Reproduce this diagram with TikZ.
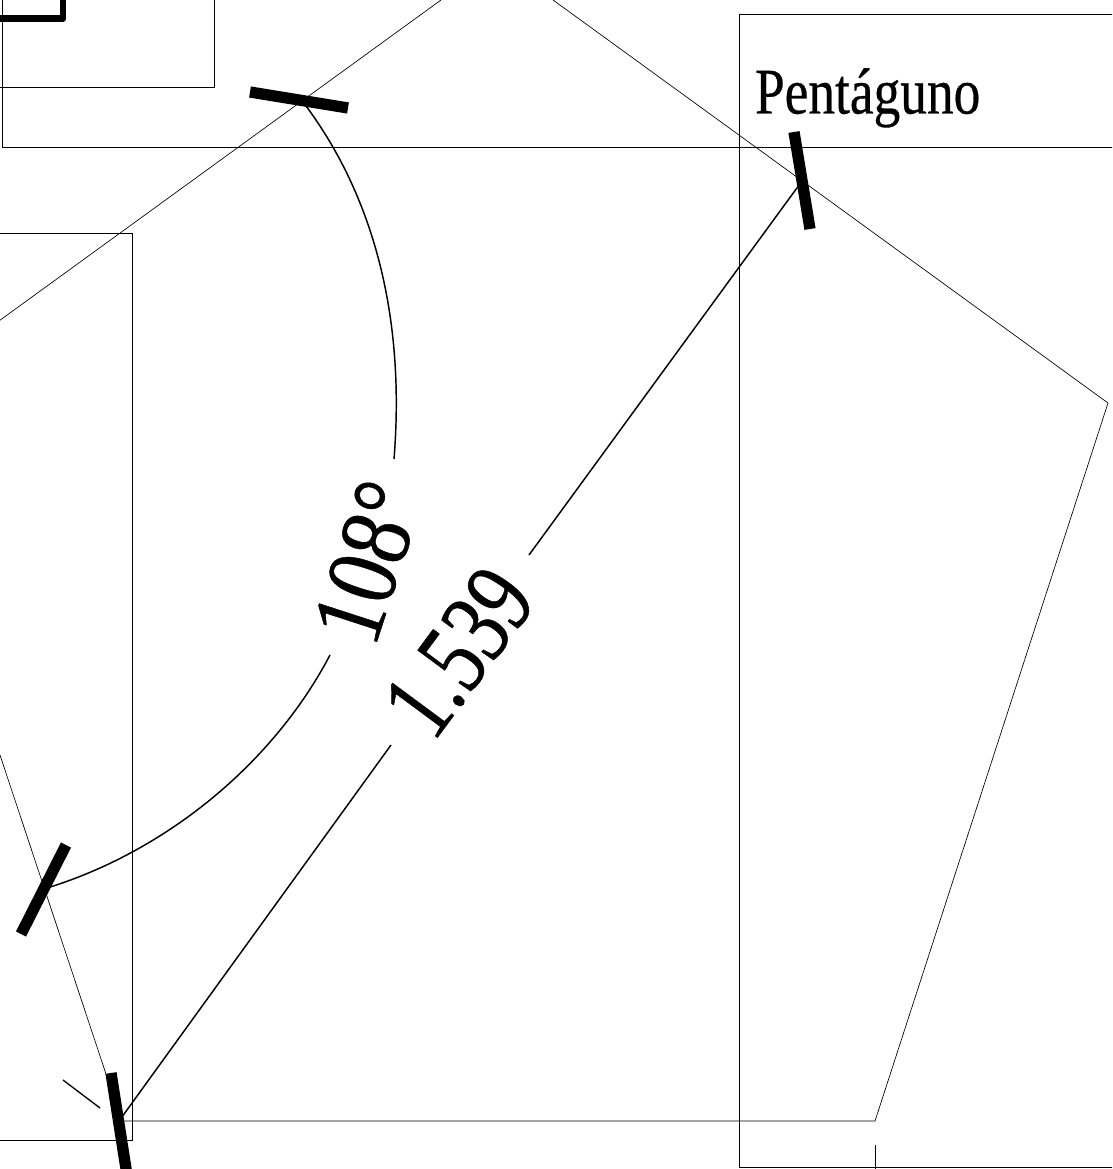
\documentclass[tikz,border=0pt]{standalone}
\usepackage{fontspec}
\setmainfont{Liberation Serif}
\newfontfamily\labelfont[FakeBold=0.5]{Liberation Serif}
\tikzset{x=0.0264583cm,y=-0.0264583cm,
thin line/.style={line width=0.5pt,black},
dim line/.style={line width=1.1pt,black},
tick/.style={line width=8.5pt,black},
lab/.style={inner sep=0pt,outer sep=0pt}}
\begin{document}
\begin{tikzpicture}
\useasboundingbox[fill=white] (0,0) rectangle (1112,1169);
\begin{scope}
\clip (0,0) rectangle (1112,1169);
% pentagon
\draw[thin line] (-30,342) -- (441,0) (553,0) -- (1108,403) -- (875,1121) -- (120,1121);
\draw[thin line] (0,755) -- (108,1080);
% frames
\draw[thin line] (2,-10) -- (2,147) -- (1122,147);
\draw[thin line] (-10,87) -- (214,87) -- (214,-10);
\draw[thin line] (-10,233) -- (132,233) -- (132,1140) -- (-10,1140);
\draw[thin line] (1122,14) -- (739,14) -- (739,1167) -- (1122,1167);
\draw[line width=5.2pt,line join=round] (-5,18.5) -- (63,18.5) -- (63,-10);
% ticks
\draw[tick] (250,92) -- (348,108);
\draw[tick] (794,132) -- (810,229);
\draw[tick] (66,845) -- (21,934);
\draw[tick] (111,1073) -- (127,1175);
\draw[line width=1pt] (63,1080) -- (100,1108);
\draw[thin line] (875,1145) -- (875,1175);
% dimension
\draw[dim line] (303,102) .. controls (370,190) and (406,310) .. (394,459);
\draw[dim line] (330,655) .. controls (275,760) and (170,850) .. (47,888);
\draw[dim line] (802,181) -- (529,555);
\draw[dim line] (391,745) -- (119,1121);
\node[lab,rotate=72,xscale=0.84,font=\labelfont\fontsize{76}{76}\selectfont] (a) at (368,562) {108°};
\node[lab,rotate=53.5,xscale=0.76,font=\labelfont\fontsize{78}{78}\selectfont] (b) at (459,652) {1.539};
\node[lab,anchor=base west,xscale=0.82,font=\labelfont\fontsize{49}{49}\selectfont] (t) at (755,113.5) {Pentáguno};
\end{scope}
\end{tikzpicture}
\end{document}
